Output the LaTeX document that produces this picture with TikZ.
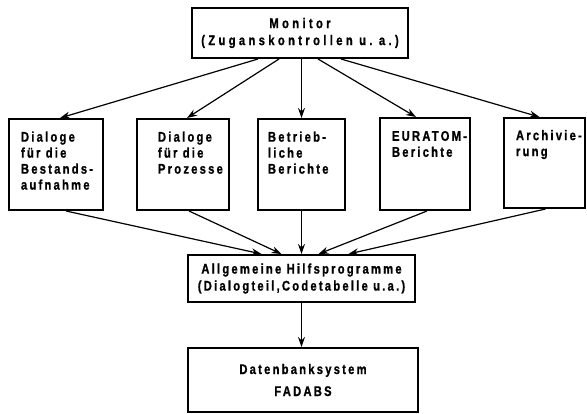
\documentclass[tikz,border=0pt]{standalone}
\usepackage{fontspec}
\usepackage{tikz}
\usetikzlibrary{arrows.meta}
\newfontfamily\schrift{Liberation Sans}[FakeStretch=0.8,LetterSpace=16,BoldFeatures={FakeBold=1}]
\newfontfamily\schriftweit{Liberation Sans}[FakeStretch=0.8,LetterSpace=24,BoldFeatures={FakeBold=1}]
\newcommand{\feld}[2]{\parbox[c][66pt][t]{#1}{\exhyphenpenalty=10000 \hbadness=10000 \hfuzz=40pt \raggedright #2}}
\tikzset{kasten/.style={draw, line width=2pt, inner sep=0pt, font=\schrift\bfseries\fontsize{14}{16}\selectfont}}

\begin{document}
\begin{tikzpicture}[>={Stealth[length=10pt,width=7pt]}]
\useasboundingbox (0,0) rectangle (587pt,-414pt);
\node[kasten, minimum width=216pt, minimum height=50pt, align=center, font=\schriftweit\bfseries\fontsize{14}{17}\selectfont] (mon) at (300pt,-33pt) {Monitor\\(Zuganskontrollen u.~a.)};
\node[kasten, minimum width=94pt, minimum height=91pt] (b1) at (56pt,-164.5pt) {\feld{70pt}{Dialoge\\für die\\Bestands-\\aufnahme}};
\node[kasten, minimum width=92pt, minimum height=91pt] (b2) at (183pt,-164.5pt) {\feld{50pt}{Dialoge\\für die\\Prozesse}};
\node[kasten, minimum width=87pt, minimum height=91pt] (b3) at (301.5pt,-164.5pt) {\feld{67pt}{Betrieb-\\liche\\Berichte}};
\node[kasten, minimum width=90pt, minimum height=92pt] (b4) at (425pt,-164pt) {\feld{66pt}{EURATOM-\\Berichte}};
\node[kasten, minimum width=81pt, minimum height=90pt] (b5) at (544.5pt,-163pt) {\feld{57pt}{Archivie-\\rung}};
\node[kasten, minimum width=227pt, minimum height=47pt, align=center, font=\schrift\bfseries\fontsize{14}{17}\selectfont] (hilf) at (301.5pt,-278.5pt) {Allgemeine Hilfsprogramme\\(Dialogteil,Codetabelle u.a.)};
\node[kasten, minimum width=230pt, minimum height=64pt, align=center] (db) at (303pt,-380pt) {Datenbanksystem\\[6pt]FADABS};
\draw [->,very thick] ([xshift=-42pt]mon.south) -- ([xshift=4pt]b1.north);
\draw [->,very thick] ([xshift=-21pt]mon.south) -- ([xshift=4pt]b2.north);
\draw [->,very thick] (b3.north |- mon.south) -- (b3.north);
\draw [->,very thick] ([xshift=18pt]mon.south) -- ([xshift=-9pt]b4.north);
\draw [->,very thick] ([xshift=41pt]mon.south) -- ([xshift=-5pt]b5.north);
\draw [->,very thick] ([xshift=10pt]b1.south) -- ([xshift=-40pt]hilf.north);
\draw [->,very thick] ([xshift=6pt]b2.south) -- ([xshift=-20pt]hilf.north);
\draw [->,very thick] (b3.south) -- (b3.south |- hilf.north);
\draw [->,very thick] ([xshift=2pt]b4.south) -- ([xshift=17pt]hilf.north);
\draw [->,very thick] ([xshift=1pt]b5.south) -- ([xshift=47pt]hilf.north);
\draw [->,very thick] (hilf.south) -- (hilf.south |- db.north);
\end{tikzpicture}
\end{document}
